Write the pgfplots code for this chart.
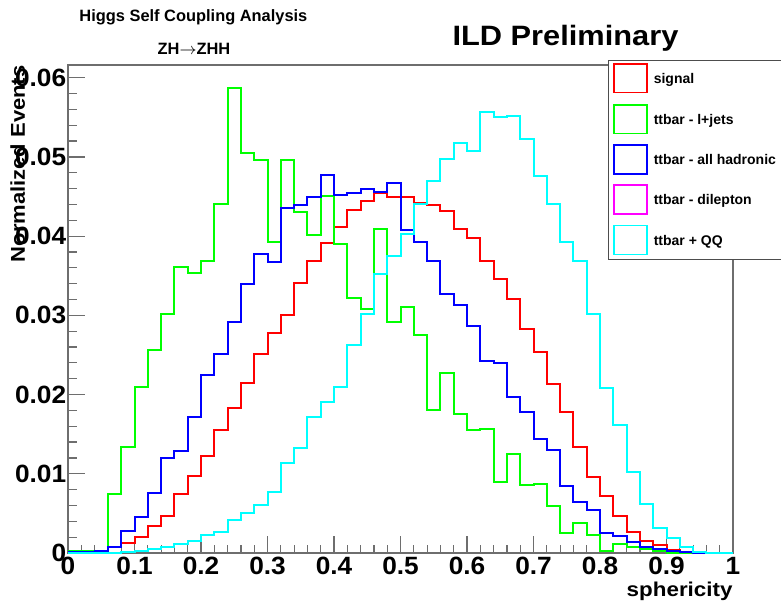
\documentclass[border=0pt]{standalone}
\usepackage{fontspec}
\setmainfont{Liberation Sans}
\usepackage{pgfplots}
\pgfplotsset{compat=1.18}

% bin left edges and contents, 50 bins of 0.02
\pgfplotstableread{
x      sig     lj      had     qq
0.00   0.0001  0.0002  0.0001  0.0000
0.02   0.0001  0.0002  0.0001  0.0000
0.04   0.0003  0.0002  0.0002  0.0000
0.06   0.0008  0.0075  0.0007  0.0000
0.08   0.0013  0.0134  0.0028  0.0001
0.10   0.0020  0.0210  0.0046  0.0002
0.12   0.0034  0.0256  0.0076  0.0005
0.14   0.0047  0.0302  0.0120  0.0008
0.16   0.0074  0.0361  0.0129  0.0011
0.18   0.0097  0.0353  0.0172  0.0015
0.20   0.0123  0.0368  0.0225  0.0023
0.22   0.0155  0.0441  0.0251  0.0026
0.24   0.0183  0.0587  0.0292  0.0042
0.26   0.0215  0.0505  0.0340  0.0051
0.28   0.0251  0.0496  0.0378  0.0060
0.30   0.0278  0.0393  0.0367  0.0077
0.32   0.0301  0.0496  0.0435  0.0114
0.34   0.0341  0.0431  0.0439  0.0132
0.36   0.0368  0.0402  0.0449  0.0172
0.38   0.0391  0.0451  0.0477  0.0190
0.40   0.0412  0.0390  0.0452  0.0209
0.42   0.0433  0.0322  0.0455  0.0263
0.44   0.0444  0.0308  0.0460  0.0302
0.46   0.0454  0.0409  0.0456  0.0352
0.48   0.0449  0.0292  0.0467  0.0375
0.50   0.0449  0.0311  0.0408  0.0403
0.52   0.0442  0.0275  0.0393  0.0441
0.54   0.0439  0.0180  0.0368  0.0470
0.56   0.0432  0.0227  0.0327  0.0497
0.58   0.0409  0.0175  0.0313  0.0518
0.60   0.0398  0.0155  0.0286  0.0507
0.62   0.0368  0.0156  0.0243  0.0557
0.64   0.0346  0.0090  0.0240  0.0550
0.66   0.0320  0.0125  0.0197  0.0552
0.68   0.0283  0.0086  0.0178  0.0522
0.70   0.0254  0.0087  0.0144  0.0476
0.72   0.0213  0.0059  0.0130  0.0441
0.74   0.0178  0.0025  0.0084  0.0392
0.76   0.0134  0.0038  0.0065  0.0368
0.78   0.0096  0.0023  0.0054  0.0302
0.80   0.0072  0.0003  0.0025  0.0208
0.82   0.0047  0.0011  0.0022  0.0161
0.84   0.0026  0.0008  0.0014  0.0102
0.86   0.0015  0.0005  0.0008  0.0062
0.88   0.0010  0.0002  0.0005  0.0032
0.90   0.0004  0.0000  0.0003  0.0019
0.92   0.0001  0.0000  0.0001  0.0008
0.94   0.0000  0.0000  0.0000  0.0001
0.96   0.0000  0.0000  0.0000  0.0000
0.98   0.0000  0.0000  0.0000  0.0000
1.00   0.0000  0.0000  0.0000  0.0000
}\sphdata

\definecolor{rred}{RGB}{255,0,0}
\definecolor{rgreen}{RGB}{0,255,0}
\definecolor{rblue}{RGB}{0,0,255}
\definecolor{rmag}{RGB}{255,0,255}
\definecolor{rcyan}{RGB}{0,255,255}
\definecolor{frame}{RGB}{110,110,110}

\begin{document}
\begin{tikzpicture}
\clip (0,0) rectangle (390.5pt,301pt);
\path[use as bounding box] (0,0) rectangle (390.5pt,301pt);

\begin{axis}[
  at={(34pt,24.5pt)}, anchor=south west,
  width=332.5pt, height=244pt, scale only axis,
  xmin=0, xmax=1, ymin=0, ymax=0.0616,
  axis line style={frame, line width=0.6pt},
  tick style={frame, line width=0.6pt},
  tick align=inside, xtick pos=bottom, ytick pos=left,
  major tick length=8.5pt, minor tick length=4.25pt,
  xtick={0,0.1,0.2,0.3,0.4,0.5,0.6,0.7,0.8,0.9,1},
  xticklabels={0,0.1,0.2,0.3,0.4,0.5,0.6,0.7,0.8,0.9,1},
  ytick={0,0.01,0.02,0.03,0.04,0.05,0.06},
  yticklabels={0,0.01,0.02,0.03,0.04,0.05,0.06},
  minor x tick num=4, minor y tick num=4,
  scaled ticks=false,
  tick label style={font=\fontsize{12.5}{13}\selectfont\bfseries, xscale=1.05},
  xticklabel style={inner sep=0pt, anchor=north, yshift=-2pt},
  yticklabel style={inner sep=0pt, anchor=east, xshift=-0.7pt},
]
\addplot[const plot, rred, line width=1pt] table[x=x, y=sig] {\sphdata};
\addplot[const plot, rgreen, line width=1pt] table[x=x, y=lj] {\sphdata};
\addplot[const plot, rblue, line width=1pt] table[x=x, y=had] {\sphdata};
\addplot[const plot, rcyan, line width=1pt] table[x=x, y=qq] {\sphdata};
\end{axis}

% titles and labels
\node[anchor=base, font=\fontsize{8.2}{9}\selectfont\bfseries] at (96.7pt,290.2pt) {Higgs Self Coupling Analysis};
\node[anchor=base, font=\fontsize{8.2}{9}\selectfont\bfseries] at (97pt,274pt) {ZH$\rightarrow$ZHH};
\node[anchor=base, font=\fontsize{14}{15}\selectfont\bfseries, xscale=1.1] at (282.75pt,278.5pt) {ILD Preliminary};
\node[rotate=90, anchor=base east, inner sep=0pt, font=\fontsize{10}{11}\selectfont\bfseries, xscale=1.1] at (12.5pt,268.5pt) {Normalized Events};
\node[anchor=base east, inner sep=0pt, font=\fontsize{10}{11}\selectfont\bfseries, xscale=1.12] at (366.5pt,3pt) {sphericity};

% legend
\draw[frame!70!black, line width=0.5pt, fill=white] (304pt,271pt) rectangle (400pt,171.5pt);
\foreach \c/\yy/\t in {rred/261.85/signal, rgreen/241.35/ttbar - l+jets, rblue/221.25/ttbar - all hadronic, rmag/201.25/ttbar - dilepton, rcyan/181/ttbar + QQ}{
  \draw[\c, line width=0.7pt] (307pt,\yy pt-7.2pt) rectangle (323.5pt,\yy pt+7.2pt);
  \node[anchor=base west, inner sep=0pt, font=\fontsize{7}{8}\selectfont\bfseries] at (326.7pt,\yy pt-2.5pt) {\t};
}
\end{tikzpicture}
\end{document}
